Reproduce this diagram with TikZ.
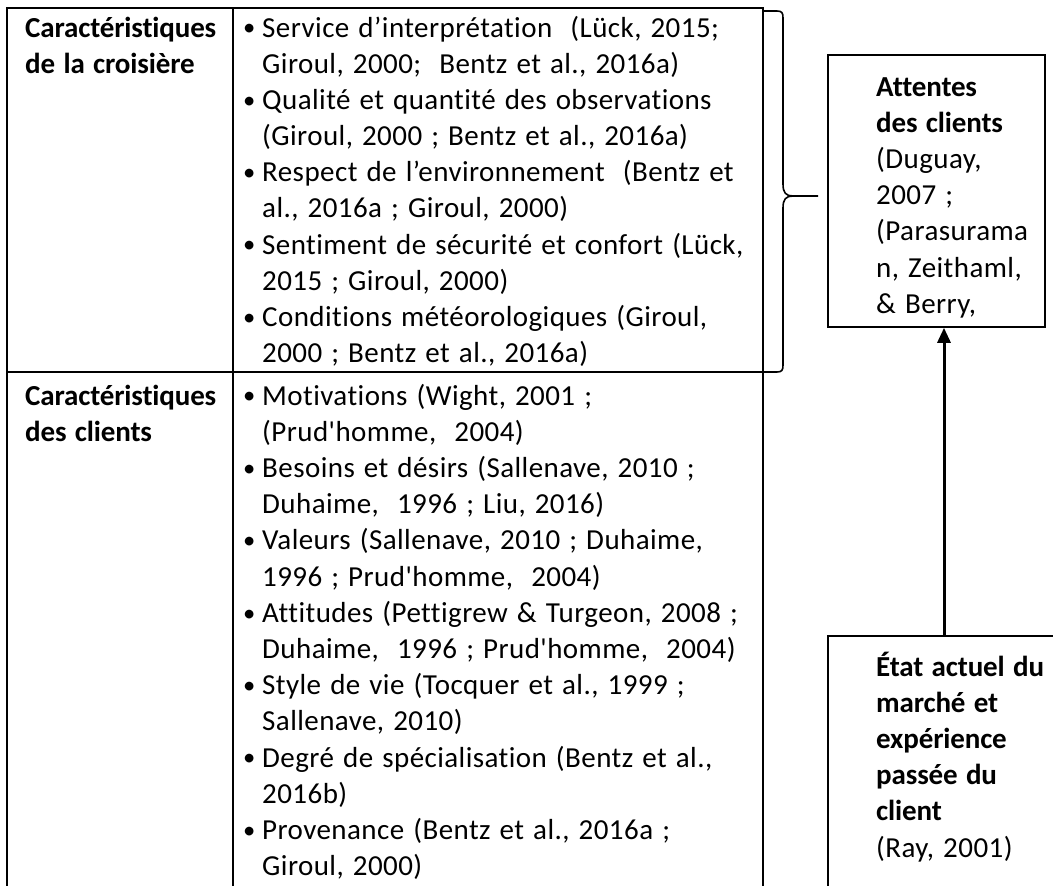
\documentclass[tikz,border=0pt]{standalone}
\usepackage{fontspec}
\usepackage{graphicx}
\setmainfont{Carlito}[Ligatures={TeXOff,NoCommon}, LetterSpace=1.5, WordSpace=1.3, BoldFeatures={LetterSpace=-0.5}]
\usetikzlibrary{arrows.meta}
\tikzset{
  rule/.style={line width=1.6pt, line cap=rect},
  boxnode/.style={draw, line width=1.6pt, inner sep=0pt},
  txt/.style={anchor=base west, inner sep=0pt, font=\fontsize{29}{36.2}\selectfont},
  uparrow/.style={line width=3pt, -{Triangle[length=15pt,width=13pt]}},
}
\newcommand{\bul}{\makebox[20pt][l]{\hspace*{1pt}\raisebox{1.2pt}{\scalebox{0.85}{\textbullet}}}}
\newcommand{\ind}{\hspace*{20pt}}
\begin{document}
\begin{tikzpicture}[x=1pt,y=-1pt]
\useasboundingbox (0,0) rectangle (1053,886);
\clip (0,0) rectangle (1053,886);
% table frame
\draw[rule] (7,8) -- (763,8);
\draw[rule] (7,8) -- (7,900);
\draw[rule] (233,8) -- (233,900);
\draw[rule] (763,8) -- (763,900);
\draw[rule] (7,372) -- (763,372);
% left column headings
\node[txt] (h1) at (25,37) {\parbox[t]{205pt}{\bfseries Caractéristiques\\de la croisière}};
\node[txt] (h2) at (25,405) {\parbox[t]{205pt}{\bfseries Caractéristiques\\des clients}};
% right column items
\node[txt] (c1) at (242,37) {\parbox[t]{520pt}{%
\bul Service d’interprétation \ (Lück, 2015;\\
\ind Giroul, 2000; \ Bentz et al., 2016a)\\
\bul Qualité et quantité des observations\\
\ind (Giroul, 2000 ; Bentz et al., 2016a)\\
\bul Respect de l’environnement \ (Bentz et\\
\ind al., 2016a ; Giroul, 2000)\\
\bul Sentiment de sécurité et confort (Lück,\\
\ind 2015 ; Giroul, 2000)\\
\bul Conditions météorologiques (Giroul,\\
\ind 2000 ; Bentz et al., 2016a)}};
\node[txt] (c2) at (242,405) {\parbox[t]{520pt}{%
\bul Motivations (Wight, 2001 ;\\
\ind (Prud'homme, \ 2004)\\
\bul Besoins et désirs (Sallenave, 2010 ;\\
\ind Duhaime, \ 1996 ; Liu, 2016)\\
\bul Valeurs (Sallenave, 2010 ; Duhaime,\\
\ind 1996 ; Prud'homme, \ 2004)\\
\bul Attitudes (Pettigrew \& Turgeon, 2008 ;\\
\ind Duhaime, \ 1996 ; Prud'homme, \ 2004)\\
\bul Style de vie (Tocquer et al., 1999 ;\\
\ind Sallenave, 2010)\\
\bul Degré de spécialisation (Bentz et al.,\\
\ind 2016b)\\
\bul Provenance (Bentz et al., 2016a ;\\
\ind Giroul, 2000)}};
% brace
\draw[line width=1.6pt] (764,11) -- (777,11) .. controls (782,11) and (783,13) .. (783,18)
  -- (783,184) .. controls (783,193) and (786,196) .. (793,196) -- (818,196);
\draw[line width=1.6pt] (793,196) .. controls (786,196) and (783,199) .. (783,208)
  -- (783,365) .. controls (783,370) and (782,372) .. (777,372) -- (764,372);
% right boxes
\node[boxnode, minimum width=217pt, minimum height=272pt] (attentes) at (936.5,191) {};
\node[txt] (attxt) at (876,96) {\parbox[t]{170pt}{%
\textbf{Attentes}\\\textbf{des clients}\\(Duguay,\\2007 ;\\(Parasurama\\n, Zeithaml,\\\& Berry,}};
\node[boxnode, minimum width=300pt, minimum height=300pt] (etat) at (978,786) {};
\node[txt] (ettxt) at (876,676) {\parbox[t]{180pt}{%
\textbf{État actuel du}\\\textbf{marché et}\\\textbf{expérience}\\\textbf{passée du}\\\textbf{client}\\(Ray, 2001)}};
\coordinate (ax) at (944,0);
\draw[uparrow] (etat.north west -| ax) -- (attentes.south -| ax);
\end{tikzpicture}
\end{document}
